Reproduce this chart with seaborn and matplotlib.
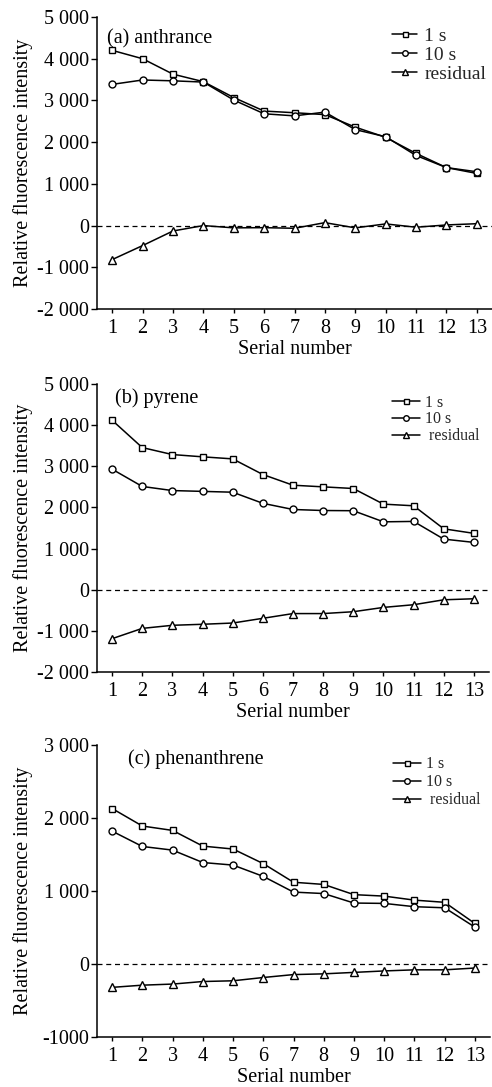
import matplotlib
matplotlib.use('Agg')
import matplotlib.pyplot as plt
import seaborn as sns

# serial numbers (x axis)
serial = list(range(1, 14))

# (a) anthrance
anth_1s = [4200, 4000, 3630, 3450, 3070, 2745, 2705, 2660, 2360, 2115, 1730, 1390, 1250]
anth_10s = [3385, 3490, 3470, 3440, 3010, 2680, 2630, 2720, 2300, 2130, 1680, 1390, 1290]
anth_res = [-815, -480, -130, 0, -55, -50, -65, 70, -55, 40, -40, 15, 45]

# (b) pyrene
pyr_1s = [4120, 3455, 3285, 3230, 3180, 2800, 2540, 2500, 2460, 2080, 2040, 1480, 1370]
pyr_10s = [2930, 2510, 2410, 2390, 2370, 2100, 1950, 1925, 1920, 1650, 1660, 1230, 1150]
pyr_res = [-1190, -940, -865, -840, -810, -695, -580, -580, -535, -430, -365, -245, -220]

# (c) phenanthrene
phen_1s = [2130, 1890, 1830, 1615, 1575, 1375, 1120, 1090, 950, 930, 875, 845, 555]
phen_10s = [1820, 1610, 1560, 1390, 1355, 1200, 985, 965, 835, 830, 785, 770, 505]
phen_res = [-320, -290, -275, -240, -230, -185, -145, -135, -115, -95, -80, -80, -55]

titles = ['(a) anthrance', '(b) pyrene', '(c) phenanthrene']

yticks_ab = [5000, 4000, 3000, 2000, 1000, 0, -1000, -2000]
ytick_labels_ab = ['5 000', '4 000', '3 000', '2 000', '1 000', '0', '-1 000', '-2 000']
yticks_c = [3000, 2000, 1000, 0, -1000]
ytick_labels_c = ['3 000', '2 000', '1 000', '0', '-1000']

sns.set_theme(style='ticks')
plt.rcParams['font.family'] = ['Liberation Serif', 'DejaVu Serif']
plt.rcParams['axes.unicode_minus'] = False

fig = plt.figure(figsize=(4.92, 10.87), dpi=100)

W, H = 492, 1087
# pixel boxes of the axes: left, top, right, bottom
boxes = [(97, 17, 492, 309), (97, 384, 489, 672), (97, 745, 490, 1037)]
panels = [
    (anth_1s, anth_10s, anth_res, yticks_ab, ytick_labels_ab, (-2000, 5000)),
    (pyr_1s, pyr_10s, pyr_res, yticks_ab, ytick_labels_ab, (-2000, 5000)),
    (phen_1s, phen_10s, phen_res, yticks_c, ytick_labels_c, (-1000, 3000)),
]
title_pos = [(0.025, 0.925), (0.045, 0.951), (0.079, 0.952)]
legend_fs = [14, 11.4, 11.4]
legend_anchor = [(0.747, 0.966), (0.753, 0.963), (0.753, 0.961)]
legend_len = [1.3, 1.75, 1.75]
legend_space = [0.08, 0.05, 0.12]
legend_labels = [['1 s', '10 s', 'residual'], ['1 s', '10 s', ' residual'], ['1 s', '10 s', ' residual']]
markers = ['s', 'o', '^']
msizes = [4.5, 5.0, 5.5]

fs = 14.5

for i, (box, panel) in enumerate(zip(boxes, panels)):
    l, t, r, b = box
    ax = fig.add_axes([l / W, 1 - b / H, (r - l) / W, (b - t) / H])
    s1, s10, res, yt, ytl, ylim = panel
    for vals, mk, ms, lab in zip([s1, s10, res], markers, msizes, legend_labels[i]):
        sns.lineplot(x=serial, y=vals, ax=ax, color='black', linewidth=1.1,
                     marker=mk, markersize=ms,
                     markerfacecolor='white', markeredgecolor='black',
                     markeredgewidth=1.0, label=lab)
    # zero reference line
    ax.axhline(0, color='black', linestyle=(0, (4, 3)), linewidth=0.9, zorder=0)
    ax.set_xlim(0.5, 13.5)
    ax.set_ylim(*ylim)
    ax.set_xticks(serial)
    ax.set_xticklabels([str(s) for s in serial])
    ax.set_yticks(yt)
    ax.set_yticklabels(ytl)
    ax.tick_params(axis='y', direction='out', length=4, width=1, labelsize=fs,
                   colors='black', pad=1.5)
    ax.tick_params(axis='x', direction='out', length=3, width=1, labelsize=fs,
                   colors='black', pad=4)
    for side in ['top', 'right']:
        ax.spines[side].set_visible(False)
    for side in ['left', 'bottom']:
        ax.spines[side].set_color('black')
        ax.spines[side].set_linewidth(1.1)
    ax.set_xlabel('Serial number', fontsize=fs, labelpad=1.5, color='black')
    ax.set_ylabel('Relative fluorescence intensity', fontsize=fs, color='black')
    ax.yaxis.set_label_coords(-0.162, 0.5)
    ax.text(title_pos[i][0], title_pos[i][1], titles[i], transform=ax.transAxes,
            fontsize=fs, va='center', ha='left', color='black')
    ax.legend(loc='upper left', bbox_to_anchor=legend_anchor[i], frameon=False,
              fontsize=legend_fs[i], handlelength=legend_len[i], handletextpad=0.35,
              labelspacing=legend_space[i], borderpad=0, borderaxespad=0,
              markerscale=0.8)

fig.savefig('out.png', dpi=100)
